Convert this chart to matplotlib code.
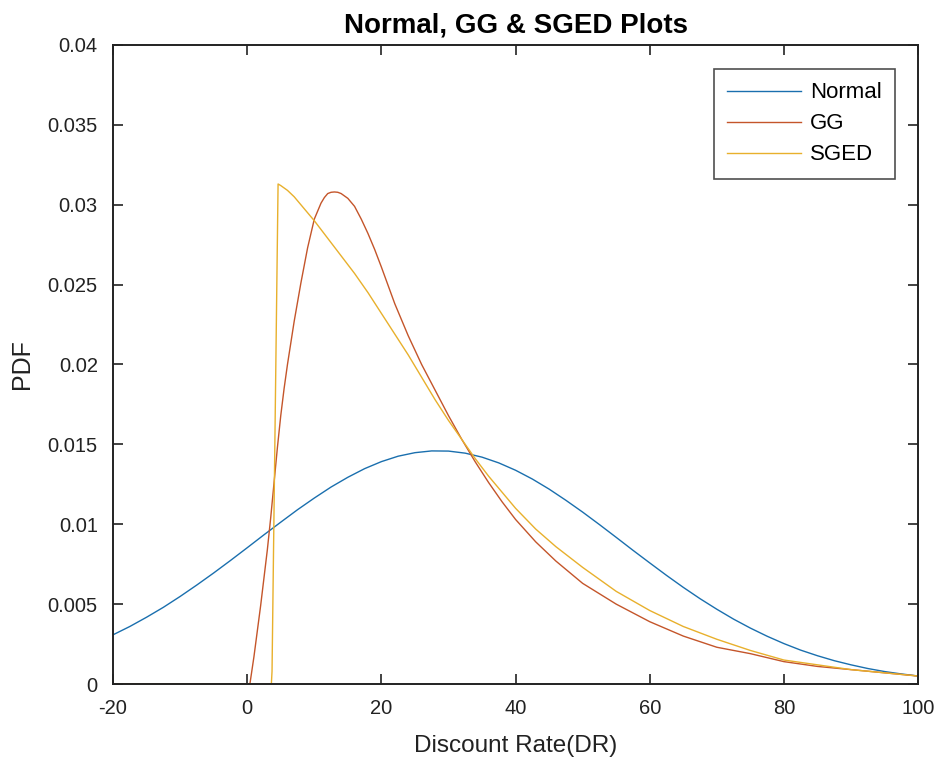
import matplotlib
matplotlib.use("Agg")
import matplotlib.pyplot as plt

plt.rcParams['font.family'] = ['Liberation Sans', 'DejaVu Sans']
plt.rcParams['axes.unicode_minus'] = False

# Normal curve
normal_x = [-20, -17.5, -15, -12.5, -10, -7.5, -5, -2.5, 0, 2.5, 5, 7.5, 10,
            12.5, 15, 17.5, 20, 22.5, 25, 27.5, 30, 32.5, 35, 37.5, 40, 42.5,
            45, 47.5, 50, 52.5, 55, 57.5, 60, 62.5, 65, 67.5, 70, 72.5, 75,
            77.5, 80, 82.5, 85, 87.5, 90, 92.5, 95, 97.5, 100]
normal_y = [0.00308, 0.00360, 0.00418, 0.00480, 0.00548, 0.00620, 0.00695,
            0.00773, 0.00853, 0.00934, 0.01013, 0.01091, 0.01164, 0.01233,
            0.01294, 0.01348, 0.01392, 0.01426, 0.01448, 0.01459, 0.01458,
            0.01445, 0.01420, 0.01384, 0.01338, 0.01283, 0.01220, 0.01150,
            0.01076, 0.00998, 0.00918, 0.00837, 0.00758, 0.00680, 0.00605,
            0.00534, 0.00468, 0.00406, 0.00350, 0.00299, 0.00253, 0.00212,
            0.00177, 0.00146, 0.00120, 0.00097, 0.00078, 0.00063, 0.00050]

# GG curve
gg_x = [-20, 0, 0.4, 1, 2, 3, 3.5, 4, 4.5, 5, 5.5, 6, 7, 8, 9, 10, 11, 11.5,
        12, 12.5, 13, 13.5, 14, 15, 16, 17, 18, 19, 20, 22, 24, 26, 28, 30,
        32, 34, 36, 38, 40, 43, 46, 50, 55, 60, 65, 70, 75, 80, 85, 90, 95,
        100]
gg_y = [0, 0, 0, 0.0017, 0.0049, 0.0084, 0.0104, 0.0126, 0.0148, 0.0168,
        0.0185, 0.0200, 0.0227, 0.0251, 0.0273, 0.0291, 0.0301, 0.03045,
        0.0307, 0.03078, 0.0308, 0.03078, 0.0307, 0.0304, 0.0299, 0.0291,
        0.0282, 0.0272, 0.0261, 0.0238, 0.0218, 0.0200, 0.0184, 0.0168,
        0.0153, 0.0139, 0.0126, 0.0114, 0.0103, 0.0089, 0.0077, 0.0063,
        0.0050, 0.0039, 0.0030, 0.0023, 0.0019, 0.0014, 0.0011, 0.0009,
        0.0007, 0.0005]

# SGED curve
sged_x = [-20, 3.6, 3.7, 4.6, 5, 6, 7, 8, 9, 10, 12, 14, 16, 18, 20, 22, 24,
          26, 28, 30, 32, 34, 36, 38, 40, 43, 46, 50, 55, 60, 65, 70, 75, 80,
          85, 90, 95, 100]
sged_y = [0, 0, 0.0008, 0.0313, 0.0312, 0.0309, 0.0305, 0.0300, 0.0295,
          0.0290, 0.0279, 0.0268, 0.0257, 0.0245, 0.0232, 0.0219, 0.0206,
          0.0192, 0.0178, 0.0165, 0.0153, 0.0141, 0.0130, 0.0120, 0.0110,
          0.0097, 0.0086, 0.0073, 0.0058, 0.0046, 0.0036, 0.0028, 0.0021,
          0.0015, 0.0012, 0.0009, 0.0007, 0.0005]

xticks = [-20, 0, 20, 40, 60, 80, 100]
yticks = [0, 0.005, 0.01, 0.015, 0.02, 0.025, 0.03, 0.035, 0.04]
ylabels = ['0', '0.005', '0.01', '0.015', '0.02', '0.025', '0.03', '0.035', '0.04']

fig = plt.figure(figsize=(9.35, 7.6), dpi=100)
ax = fig.add_axes([0.1209, 0.1, 0.8610, 0.8408])

ax.plot(normal_x, normal_y, color='#1a6fae', lw=1.0, label='Normal')
ax.plot(gg_x, gg_y, color='#c4552a', lw=1.0, label='GG')
ax.plot(sged_x, sged_y, color='#e8b02c', lw=1.0, label='SGED')

ax.set_xlim(-20, 100)
ax.set_ylim(0, 0.04)
ax.set_xticks(xticks)
ax.set_yticks(yticks)
ax.set_yticklabels(ylabels)
ax.tick_params(direction='in', top=True, right=True, length=7, width=1.2,
               labelsize=14.5, pad=11, colors='#222222')
for s in ax.spines.values():
    s.set_linewidth(1.4)
    s.set_color('#222222')

ax.set_xlabel('Discount Rate(DR)', fontsize=17.5, labelpad=12, color='#222222')
ax.set_ylabel('PDF', fontsize=18, labelpad=10, color='#222222')
ax.set_title('Normal, GG & SGED Plots', fontsize=20, fontweight='bold', pad=9)

leg = ax.legend(loc='upper right', bbox_to_anchor=(0.9714, 0.9624),
                fontsize=16, handlelength=3.33, handletextpad=0.4,
                frameon=True, fancybox=False, borderaxespad=0,
                labelspacing=0.45, borderpad=0.6)
leg.get_frame().set_edgecolor('#222222')
leg.get_frame().set_linewidth(1.2)

fig.savefig('out.png', dpi=100)
